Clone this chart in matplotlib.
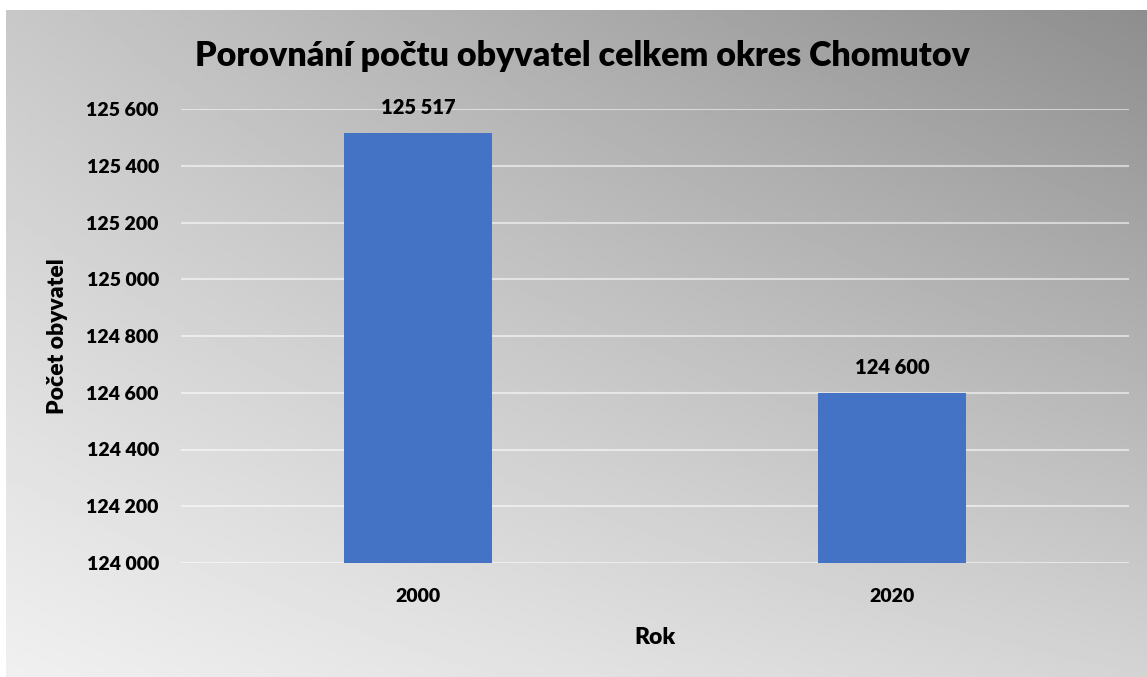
import numpy as np
import matplotlib
matplotlib.use("Agg")
import matplotlib.pyplot as plt
from matplotlib.ticker import FuncFormatter

# data
roky = ["2000", "2020"]
obyvatele = [125517, 124600]
y_ticks = [124000, 124200, 124400, 124600, 124800, 125000, 125200, 125400, 125600]

plt.rcParams['font.family'] = ['Lato', 'DejaVu Sans']
plt.rcParams['font.weight'] = 800
W8 = 800

W, H = 1147, 677
fig = plt.figure(figsize=(W / 100, H / 100), dpi=100)
fig.patch.set_facecolor('white')

# gradient background (bilinear between corners)
bg = fig.add_axes([6 / W, 0, 1 - 6 / W, (H - 10) / H])
u = np.linspace(0, 1, 400)
v = np.linspace(0, 1, 240)
U, V = np.meshgrid(u, v)
bl, br, tl, tr = 240, 212, 200, 142
grad = (bl * (1 - U) * (1 - V) + br * U * (1 - V) + tl * (1 - U) * V + tr * U * V) / 255
bg.imshow(grad, cmap='gray', vmin=0, vmax=1, origin='lower', aspect='auto', extent=[0, 1, 0, 1])
bg.set_axis_off()

ax = fig.add_axes([181 / W, 1 - 563 / H, (1129 - 181) / W, (563 - 109) / H])
ax.patch.set_alpha(0)

x = np.arange(len(roky))
bars = ax.bar(x, obyvatele, width=0.312, color='#4472C4', zorder=3)
ax.set_xlim(-0.5, 1.5)
ax.set_ylim(124000, 125600)
ax.set_yticks(y_ticks)
ax.yaxis.set_major_formatter(FuncFormatter(lambda v, p: f"{int(v):,}".replace(",", " ")))
ax.set_xticks(x)
ax.set_xticklabels(roky)
for lab in ax.get_xticklabels() + ax.get_yticklabels():
    lab.set_fontweight(W8)

ax.grid(axis='y', color='white', alpha=0.55, linewidth=1.5, zorder=0)
for s in ax.spines.values():
    s.set_visible(False)
ax.tick_params(length=0, labelsize=14)
ax.tick_params(axis='y', pad=16)
ax.tick_params(axis='x', pad=18)

for xi, val in zip(x, obyvatele):
    ax.annotate(f"{val:,}".replace(",", " "), (xi, val), xytext=(0, 11),
                textcoords='offset points', ha='center', va='bottom',
                fontsize=14.5, fontweight=W8, clip_on=False)

ax.set_xlabel("Rok", fontsize=16.5, fontweight=W8, labelpad=16)
ax.set_ylabel("Počet obyvatel", fontsize=16.5, fontweight=W8, labelpad=13)

fig.text(0.5 * (195 + 970) / W, 1 - 56 / H, "Porovnání počtu obyvatel celkem okres Chomutov",
         ha='center', va='center', fontsize=24.5, fontweight=W8)

fig.savefig("out.png", dpi=100)
